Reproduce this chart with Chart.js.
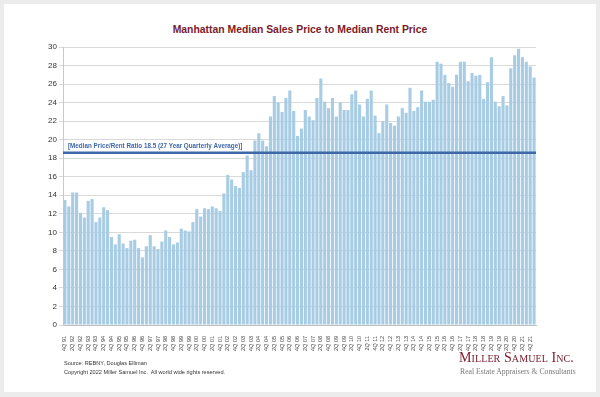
<!DOCTYPE html>
<html>
<head>
<meta charset="utf-8">
<script src="https://cdn.jsdelivr.net/npm/chart.js@4.4.1/dist/chart.umd.min.js"></script>
<style>
    html, body { margin: 0; padding: 0; }
    body { width: 600px; height: 397px; background: #ececec; position: relative; overflow: hidden; font-family: "Liberation Sans", Arial, sans-serif; }
    .card { position: absolute; left: 4px; top: 4px; width: 592px; height: 388px; background: #fff; }
    #chartWrap { position: absolute; left: 0; top: 0; width: 600px; height: 397px; }
    .title { position: absolute; left: 0; width: 600px; top: 24px; text-align: center; font-weight: bold; font-size: 10.4px; color: #7b1c2a; }
    .source { position: absolute; left: 64px; font-size: 5.6px; color: #333; white-space: pre; }
    .logo { position: absolute; left: 459px; top: 350px; font-family: "Liberation Serif", serif; font-variant: small-caps; font-size: 14px; color: #7d2030; letter-spacing: 0.1px; }
    .tagline { position: absolute; left: 460px; top: 367px; font-family: "Liberation Serif", serif; font-size: 7.7px; color: #7a7a7a; }
</style>
</head>
<body>
<div class="card"></div>
<div class="title">Manhattan Median Sales Price to Median Rent Price</div>
<div id="chartWrap"><canvas id="ratioChart" width="600" height="397"></canvas></div>
<div class="source" style="top:360px">Source: REBNY, Douglas Elliman</div>
<div class="source" style="top:369px">Copyright 2022 Miller Samuel Inc.  All world wide rights reserved.</div>
<div class="logo">Miller Samuel Inc.</div>
<div class="tagline">Real Estate Appraisers &amp; Consultants</div>
<script>
// Quarterly series, 4Q 91 through 1Q 22
const startYear = 1991;
const startQuarter = 4;
const quarterCount = 122;

const ratioValues = [
    13.5, 12.8, 14.3, 14.3, 12.1, 11.6, 13.4, 13.6, 11.1, 11.6,
    12.7, 12.4, 9.5, 8.7, 9.8, 8.8, 8.3, 9.1, 9.2, 8.3,
    7.3, 8.5, 9.7, 8.5, 8.2, 9.0, 10.2, 9.5, 8.7, 8.9,
    10.4, 10.2, 10.1, 11.1, 12.5, 11.7, 12.6, 12.5, 12.8, 12.6,
    12.3, 14.2, 16.2, 15.7, 15.0, 14.8, 16.5, 18.3, 16.7, 19.9,
    20.7, 19.9, 19.3, 22.5, 24.7, 24.0, 23.0, 24.5, 25.3, 23.1,
    20.4, 21.2, 23.2, 22.5, 22.1, 24.5, 26.6, 24.1, 23.4, 24.5,
    22.5, 24.0, 23.2, 23.2, 24.9, 25.3, 23.8, 22.5, 24.4, 25.3,
    22.6, 20.7, 22.0, 23.8, 21.8, 21.5, 22.5, 23.4, 22.9, 25.6,
    23.1, 23.5, 25.3, 24.1, 24.1, 24.3, 28.4, 28.2, 27.0, 26.1,
    25.7, 27.0, 28.4, 28.4, 26.3, 27.2, 26.9, 27.0, 24.4, 26.2,
    28.9, 24.1, 23.6, 24.7, 23.7, 27.7, 29.1, 29.8, 28.9, 28.4,
    27.9, 26.7
];

const averageRatio = 18.6;
const averageLabel = '[Median Price/Rent Ratio 18.5 (27 Year Quarterly Average)]';
const yTicks = [0, 2, 4, 6, 8, 10, 12, 14, 16, 18, 20, 22, 24, 26, 28, 30];

const quarterLabels = [];
for (let i = 0; i < quarterCount; i++) {
    const q = (startQuarter - 1 + i) % 4 + 1;
    const y = startYear + Math.floor((startQuarter - 1 + i) / 4);
    quarterLabels.push(q + 'Q ' + String(y % 100).padStart(2, '0'));
}

// draws the long-run average line and its caption across the plot
const averageLinePlugin = {
    id: 'averageLine',
    afterDatasetsDraw(chart) {
        const { ctx, chartArea, scales } = chart;
        const y = scales.y.getPixelForValue(averageRatio);
        ctx.save();
        ctx.strokeStyle = '#3f68a8';
        ctx.lineWidth = 2.5;
        ctx.beginPath();
        ctx.moveTo(chartArea.left, y);
        ctx.lineTo(chartArea.right, y);
        ctx.stroke();
        ctx.fillStyle = '#3f68a8';
        ctx.font = 'bold 6.3px "Liberation Sans", Arial, sans-serif';
        ctx.textBaseline = 'bottom';
        ctx.fillText(averageLabel, chartArea.left + 5, y - 3);
        ctx.restore();
    }
};

const ctx = document.getElementById('ratioChart').getContext('2d');
new Chart(ctx, {
    type: 'bar',
    data: {
        labels: quarterLabels,
        datasets: [{
            data: ratioValues,
            backgroundColor: '#a7cce4',
            borderWidth: 0,
            categoryPercentage: 0.8,
            barPercentage: 1.0
        }]
    },
    options: {
        responsive: false,
        animation: false,
        devicePixelRatio: 1,
        layout: { padding: { left: 43, right: 64, top: 47, bottom: 40 } },
        plugins: {
            legend: { display: false },
            tooltip: { enabled: false },
            title: { display: false }
        },
        scales: {
            x: {
                grid: { display: false },
                border: { color: '#bdbdbd' },
                afterFit(scale) { scale.height = 32; },
                ticks: {
                    autoSkip: false,
                    maxRotation: 90,
                    minRotation: 90,
                    padding: 3,
                    color: '#444',
                    font: { size: 5.5, family: '"Liberation Sans", Arial, sans-serif' },
                    callback: function(value, index) {
                        return index % 2 === 0 ? this.getLabelForValue(value) : '';
                    }
                }
            },
            y: {
                min: 0,
                max: 30,
                afterFit(scale) { scale.width = 20; },
                afterBuildTicks(scale) { scale.ticks = yTicks.map(v => ({ value: v })); },
                grid: { color: '#d9d9d9', tickLength: 4 },
                border: { color: '#c8c8c8' },
                ticks: {
                    padding: 2,
                    color: '#333',
                    font: { size: 8, family: '"Liberation Sans", Arial, sans-serif' }
                }
            }
        }
    },
    plugins: [averageLinePlugin]
});
</script>
</body>
</html>
